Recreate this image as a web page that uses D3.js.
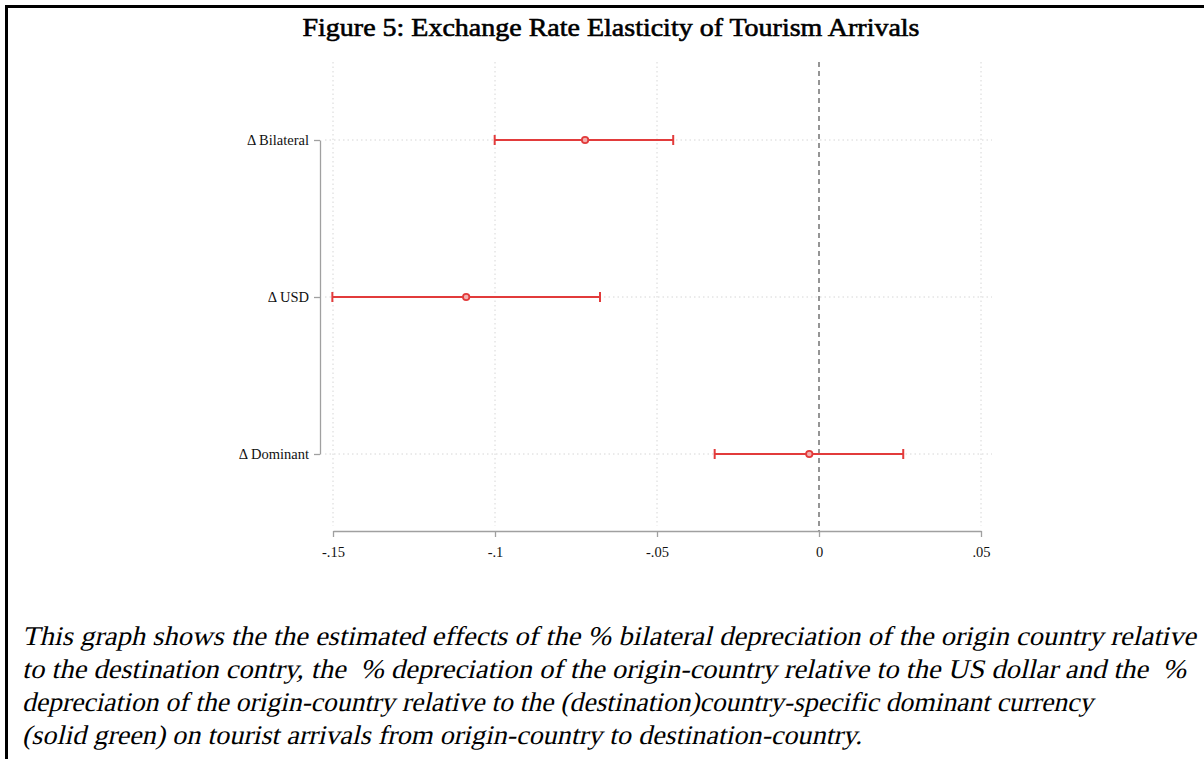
<!DOCTYPE html>
<html>
<head>
<meta charset="utf-8">
<script src="https://cdn.jsdelivr.net/npm/d3@7"></script>
<style>
  html, body { margin: 0; padding: 0; background: #fff; }
  svg { display: block; }
  .serif { font-family: "Liberation Serif", "Times New Roman", Times, serif; }
</style>
</head>
<body>
<svg id="chart" width="1204" height="759"></svg>
<script>
// Coefficient estimates with confidence intervals
const categories = ["Δ Bilateral", "Δ USD", "Δ Dominant"];
const estimates = [-0.0722, -0.1089, -0.0030];
const lower = [-0.1001, -0.1502, -0.0322];
const upper = [-0.0450, -0.0676, 0.0260];
const xTicks = [-0.15, -0.1, -0.05, 0, 0.05];
const xTickLabels = ["-.15", "-.1", "-.05", "0", ".05"];

const title = "Figure 5: Exchange Rate Elasticity of Tourism Arrivals";
const captionLines = [
  "This graph shows the the estimated effects of the % bilateral depreciation of the origin country relative",
  "to the destination contry, the  % depreciation of the origin-country relative to the US dollar and the  %",
  "depreciation of the origin-country relative to the (destination)country-specific dominant currency",
  "(solid green) on tourist arrivals from origin-country to destination-country."
];

const rows = categories.map((c, i) => ({ cat: c, est: estimates[i], lo: lower[i], hi: upper[i] }));

const svg = d3.select("#chart");

// frame
svg.append("line").attr("x1", 5).attr("x2", 1204).attr("y1", 6.5).attr("y2", 6.5)
  .attr("stroke", "#000").attr("stroke-width", 3);
svg.append("line").attr("x1", 6.5).attr("x2", 6.5).attr("y1", 5).attr("y2", 759)
  .attr("stroke", "#000").attr("stroke-width", 3);

// title
svg.append("text")
  .attr("class", "serif")
  .attr("x", 611).attr("y", 36)
  .attr("text-anchor", "middle")
  .attr("font-size", 25)
  .attr("stroke", "#000").attr("stroke-width", 0.6)
  .attr("textLength", 617).attr("lengthAdjust", "spacingAndGlyphs")
  .attr("fill", "#000")
  .text(title);

const plotTop = 62, axisY = 531;
const x = d3.scaleLinear().domain([-0.15, 0.05]).range([333, 981]);
const y = d3.scalePoint().domain(categories).range([140, 454]);

const grid = svg.append("g");
// vertical grid
grid.selectAll("line.vg").data(xTicks.filter(t => t !== 0)).join("line")
  .attr("x1", d => x(d)).attr("x2", d => x(d))
  .attr("y1", plotTop).attr("y2", axisY - 5)
  .attr("stroke", "#d6d6d6").attr("stroke-width", 1).attr("stroke-dasharray", "1.5,3");
// horizontal grid
grid.selectAll("line.hg").data(categories).join("line")
  .attr("x1", 325).attr("x2", 992)
  .attr("y1", d => y(d)).attr("y2", d => y(d))
  .attr("stroke", "#d6d6d6").attr("stroke-width", 1).attr("stroke-dasharray", "1.5,3");

// zero reference line
svg.append("line")
  .attr("x1", x(0)).attr("x2", x(0))
  .attr("y1", plotTop).attr("y2", axisY)
  .attr("stroke", "#8a8a8a").attr("stroke-width", 1.8).attr("stroke-dasharray", "5,4");

// x axis
const xAxis = d3.axisBottom(x).tickValues(xTicks)
  .tickFormat((d, i) => xTickLabels[i]).tickSize(6).tickSizeOuter(0);
const gx = svg.append("g").attr("transform", `translate(0,${axisY})`).call(xAxis);
gx.attr("font-family", null).attr("font-size", null).attr("class", "serif");
gx.select(".domain").attr("stroke", "#a0a0a0").attr("stroke-width", 1.3);
gx.selectAll(".tick line").attr("stroke", "#a0a0a0").attr("stroke-width", 1.3);
gx.selectAll(".tick text")
  .attr("font-size", 14.5)
  .attr("fill", "#111").attr("dy", "1.15em");

// y axis
const yAxis = d3.axisLeft(y).tickSize(6).tickSizeOuter(0).tickPadding(5);
const gy = svg.append("g").attr("transform", "translate(320,0)").call(yAxis);
gy.attr("font-family", null).attr("font-size", null).attr("class", "serif");
gy.select(".domain").attr("stroke", "#a0a0a0").attr("stroke-width", 1.3);
gy.selectAll(".tick line").attr("stroke", "#a0a0a0").attr("stroke-width", 1.3);
gy.selectAll(".tick text")
  .attr("font-size", 14.5)
  .attr("fill", "#111");

// confidence intervals
const red = "#e23b3b";
const ci = svg.append("g");
ci.selectAll("line.ci").data(rows).join("line")
  .attr("x1", d => x(d.lo)).attr("x2", d => x(d.hi))
  .attr("y1", d => y(d.cat)).attr("y2", d => y(d.cat))
  .attr("stroke", red).attr("stroke-width", 2);
ci.selectAll("line.capl").data(rows).join("line")
  .attr("x1", d => x(d.lo)).attr("x2", d => x(d.lo))
  .attr("y1", d => y(d.cat) - 5).attr("y2", d => y(d.cat) + 5)
  .attr("stroke", red).attr("stroke-width", 2);
ci.selectAll("line.caph").data(rows).join("line")
  .attr("x1", d => x(d.hi)).attr("x2", d => x(d.hi))
  .attr("y1", d => y(d.cat) - 5).attr("y2", d => y(d.cat) + 5)
  .attr("stroke", red).attr("stroke-width", 2);
ci.selectAll("circle").data(rows).join("circle")
  .attr("cx", d => x(d.est)).attr("cy", d => y(d.cat)).attr("r", 3.2)
  .attr("fill", "#f2b0b0").attr("stroke", red).attr("stroke-width", 1.8);

// caption: upright serif slanted into an italic
const caption = svg.append("g")
  .attr("class", "serif")
  .attr("font-size", 27).attr("fill", "#000");
const captionWidths = [1174, 1164, 1071, 840];
caption.selectAll("text").data(captionLines).join("text")
  .attr("transform", (d, i) => `translate(22,${645 + i * 33}) skewX(-13)`)
  .attr("x", 0).attr("y", 0)
  .attr("textLength", (d, i) => captionWidths[i]).attr("lengthAdjust", "spacingAndGlyphs")
  .attr("xml:space", "preserve")
  .text(d => d);
</script>
</body>
</html>
